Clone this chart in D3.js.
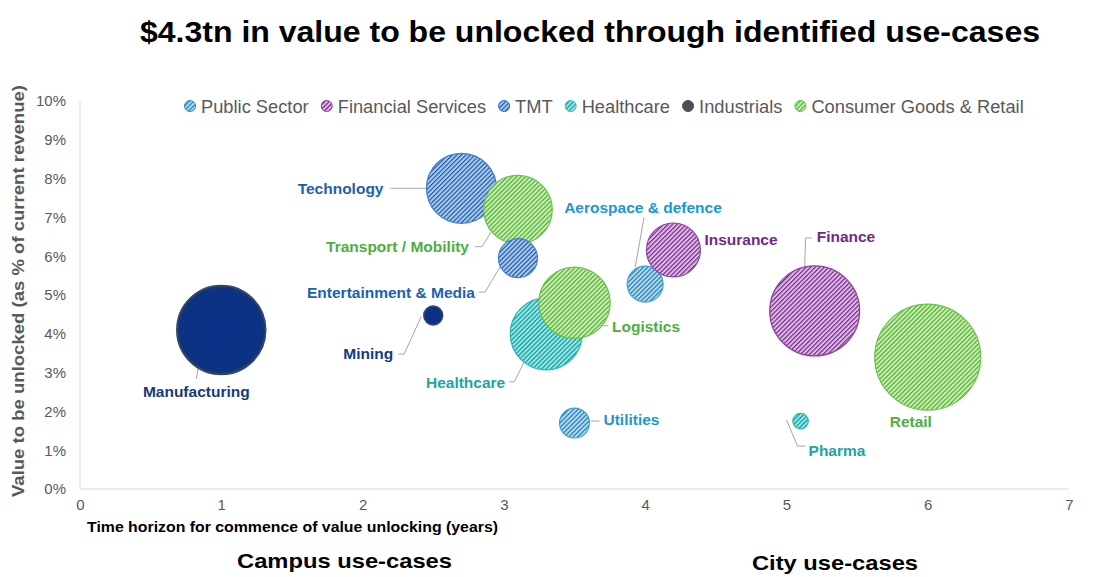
<!DOCTYPE html>
<html>
<head>
<meta charset="utf-8">
<script src="https://cdn.jsdelivr.net/npm/d3@7"></script>
<style>
  html, body { margin: 0; padding: 0; background: #fff; }
  svg { display: block; font-family: "Liberation Sans", Arial, sans-serif; }
</style>
</head>
<body>
<svg id="chart" width="1094" height="577"></svg>
<script>
// ---------- DATA ----------
const categories = ["Public Sector", "Financial Services", "TMT", "Healthcare", "Industrials", "Consumer Goods & Retail"];
const useCases   = ["Manufacturing", "Technology", "Transport / Mobility", "Entertainment  & Media", "Mining", "Healthcare", "Logistics", "Aerospace & defence", "Insurance", "Finance", "Retail", "Utilities", "Pharma"];
const useCaseCategory = ["Industrials", "TMT", "Consumer Goods & Retail", "TMT", "Industrials", "Healthcare", "Consumer Goods & Retail", "Public Sector", "Financial Services", "Financial Services", "Consumer Goods & Retail", "Public Sector", "Healthcare"];
const timeHorizon = [1.0, 2.7, 3.1, 3.1, 2.5, 3.3, 3.5, 4.0, 4.2, 5.2, 6.0, 3.5, 5.1];        // years
const valuePct    = [4.1, 7.75, 7.2, 5.95, 4.47, 4.0, 4.8, 5.28, 6.16, 4.59, 3.4, 1.7, 1.75]; // % of current revenue
const valueBn     = [620, 384, 368, 119, 28, 406, 399, 101, 228, 634, 880, 70, 19];          // bubble size (US$bn)
const xTicks = [0, 1, 2, 3, 4, 5, 6, 7];
const yTicks = [0, 1, 2, 3, 4, 5, 6, 7, 8, 9, 10];

// ---------- STYLE ----------
const catStyle = {
  "Public Sector":           {base: "#a9def8", stripe: "#1c5f8c", stroke: "#3aa3dc", text: "#1e96d2", legend: "#1e96d2"},
  "Financial Services":      {base: "#e9b2f2", stripe: "#4b1d5a", stroke: "#8a469c", text: "#732a84", legend: "#8e3e9e"},
  "TMT":                     {base: "#a3ccf7", stripe: "#173f80", stroke: "#3e80cf", text: "#1b62ab", legend: "#2a6fc4"},
  "Healthcare":              {base: "#8aeeee", stripe: "#137a7a", stroke: "#2fb5b5", text: "#22a3a3", legend: "#35b8b8"},
  "Industrials":             {solid: "#0b3184", stroke: "#34476c", text: "#163a7c", legend: "#4a5257"},
  "Consumer Goods & Retail": {base: "#c6f2a8", stripe: "#3f9a32", stroke: "#6cc24e", text: "#4fae3d", legend: "#5fbf48"}
};
const catKey = c => c.replace(/[^A-Za-z]/g, "");

// label layout: offsets relative to bubble center
const labelLayout = {
  "Manufacturing":          {dx: -25, dy: 62,  anchor: "middle", leader: [[-22, 32], [-25, 49]]},
  "Technology":             {dx: -78, dy: 0,   anchor: "end",    leader: [[-71, 0], [-34, 0]]},
  "Transport / Mobility":   {dx: -49, dy: 37,  anchor: "end",    leader: [[-43, 37], [-36, 37], [-26, 21]]},
  "Entertainment  & Media": {dx: -43, dy: 34,  anchor: "end",    leader: [[-39, 34], [-33, 34], [-18, 9]]},
  "Mining":                 {dx: -40, dy: 38.5,anchor: "end",    leader: [[-35, 38.5], [-29, 38.5], [-12, 1]]},
  "Healthcare":             {dx: -41, dy: 49,  anchor: "end",    leader: [[-37, 48], [-32, 48], [-22, 28]]},
  "Logistics":              {dx: 37.5,dy: 24,  anchor: "start",  leader: [[27, 23], [34, 23]]},
  "Aerospace & defence":    {dx: -81, dy: -77, anchor: "start",  leader: [[-1, -67], [-10, -17]]},
  "Insurance":              {dx: 31,  dy: -10, anchor: "start",  leader: null},
  "Finance":                {dx: 2,   dy: -74, anchor: "start",  leader: [[-3, -73], [-9, -73], [-10, -44]]},
  "Retail":                 {dx: -38, dy: 64,  anchor: "start",  leader: null},
  "Utilities":              {dx: 29,  dy: -3,  anchor: "start",  leader: [[16, -2], [25, -2]]},
  "Pharma":                 {dx: 8,   dy: 29,  anchor: "start",  leader: [[-14, -1], [-3, 25], [5, 25]]}
};

const data = useCases.map((n, i) => ({name: n, cat: useCaseCategory[i], x: timeHorizon[i], y: valuePct[i], v: valueBn[i]}));

// ---------- CHART ----------
const svg = d3.select("#chart");
const x = d3.scaleLinear().domain([0, 7]).range([80, 1069]);
const y = d3.scaleLinear().domain([0, 10]).range([489, 101]);
const r = d3.scaleSqrt().domain([0, d3.max(valueBn)]).range([0, 53]);

// patterns
const defs = svg.append("defs");
categories.forEach(c => {
  const s = catStyle[c];
  if (s.solid) return;
  const p = defs.append("pattern").attr("id", "hatch-" + catKey(c))
    .attr("patternUnits", "userSpaceOnUse").attr("width", 3.2).attr("height", 3.2)
    .attr("patternTransform", "rotate(45)");
  p.append("rect").attr("width", 3.2).attr("height", 3.2).attr("fill", s.base);
  p.append("line").attr("x1", 0.6).attr("y1", 0).attr("x2", 0.6).attr("y2", 3.2)
    .attr("stroke", s.stripe).attr("stroke-width", 1.0);
});
const rg = defs.append("radialGradient").attr("id", "solidNavy");
rg.append("stop").attr("offset", "0%").attr("stop-color", "#0a3187");
rg.append("stop").attr("offset", "93%").attr("stop-color", "#0c3282");
rg.append("stop").attr("offset", "100%").attr("stop-color", "#2b3d66");
const fillFor = c => catStyle[c].solid ? "url(#solidNavy)" : "url(#hatch-" + catKey(c) + ")";

// title
svg.append("text").attr("x", 590).attr("y", 42).attr("text-anchor", "middle")
  .attr("font-size", 30).attr("font-weight", "bold").attr("fill", "#000")
  .attr("textLength", 900).attr("lengthAdjust", "spacingAndGlyphs")
  .text("$4.3tn in value to be unlocked through identified use-cases");

// axes lines
svg.append("line").attr("x1", x(0)).attr("x2", x(0)).attr("y1", y(10)).attr("y2", y(0))
  .attr("stroke", "#d9d9d9").attr("stroke-width", 1);
svg.append("line").attr("x1", x(0)).attr("x2", x(7)).attr("y1", y(0)).attr("y2", y(0))
  .attr("stroke", "#d9d9d9").attr("stroke-width", 1);

// axis tick labels using d3 axes
const yAxis = svg.append("g").attr("transform", `translate(${x(0)},0)`)
  .call(d3.axisLeft(y).tickValues(yTicks).tickSize(0).tickPadding(14).tickFormat(d => d + "%"));
const xAxis = svg.append("g").attr("transform", `translate(0,${y(0)})`)
  .call(d3.axisBottom(x).tickValues(xTicks).tickSize(0).tickPadding(10).tickFormat(d3.format("d")));
[yAxis, xAxis].forEach(a => {
  a.select(".domain").remove();
  a.selectAll("text").attr("font-size", 15).attr("fill", "#595959")
    .attr("font-family", "'Liberation Sans', Arial, sans-serif");
});

// axis titles
svg.append("text").attr("transform", "translate(24,291) rotate(-90)").attr("text-anchor", "middle")
  .attr("font-size", 17).attr("font-weight", "bold").attr("fill", "#595959")
  .attr("textLength", 412).attr("lengthAdjust", "spacingAndGlyphs")
  .text("Value to be unlocked (as % of current revenue)");
svg.append("text").attr("x", 87).attr("y", 532)
  .attr("font-size", 14).attr("font-weight", "bold").attr("fill", "#000")
  .attr("textLength", 411).attr("lengthAdjust", "spacingAndGlyphs")
  .text("Time horizon for commence of value unlocking (years)");
svg.append("text").attr("x", 237).attr("y", 568)
  .attr("font-size", 21).attr("font-weight", "bold").attr("fill", "#000")
  .attr("textLength", 215).attr("lengthAdjust", "spacingAndGlyphs")
  .text("Campus use-cases");
svg.append("text").attr("x", 752).attr("y", 570)
  .attr("font-size", 21).attr("font-weight", "bold").attr("fill", "#000")
  .attr("textLength", 166).attr("lengthAdjust", "spacingAndGlyphs")
  .text("City use-cases");

// legend
const legend = svg.append("g");
let lx = 190;
categories.forEach(c => {
  const s = catStyle[c];
  legend.append("circle").attr("cx", lx).attr("cy", 106).attr("r", 5.5)
    .attr("fill", s.solid ? s.legend : fillFor(c)).attr("stroke", s.legend).attr("stroke-width", 1);
  const t = legend.append("text").attr("x", lx + 11).attr("y", 112.5)
    .attr("font-size", 18.3).attr("fill", "#595959").text(c);
  lx = lx + 11 + t.node().getComputedTextLength() + 18;
});

// leader lines (below bubbles)
const line = d3.line();
svg.append("g").selectAll("path")
  .data(data.filter(d => labelLayout[d.name].leader))
  .join("path")
  .attr("d", d => line(labelLayout[d.name].leader.map(p => [x(d.x) + p[0], y(d.y) + p[1]])))
  .attr("fill", "none").attr("stroke", "#a6a6a6").attr("stroke-width", 1);

// bubbles
svg.append("g").selectAll("circle")
  .data(data)
  .join("circle")
  .attr("cx", d => x(d.x)).attr("cy", d => y(d.y)).attr("r", d => r(d.v))
  .attr("fill", d => fillFor(d.cat))
  .attr("stroke", d => catStyle[d.cat].stroke)
  .attr("stroke-width", d => d.cat === "Industrials" ? 1.5 : 1.2);

// labels
svg.append("g").selectAll("text")
  .data(data)
  .join("text")
  .attr("x", d => x(d.x) + labelLayout[d.name].dx)
  .attr("y", d => y(d.y) + labelLayout[d.name].dy)
  .attr("dy", "0.35em")
  .attr("text-anchor", d => labelLayout[d.name].anchor)
  .attr("font-size", 15.5).attr("font-weight", "bold")
  .attr("fill", d => catStyle[d.cat].text)
  .text(d => d.name);
</script>
</body>
</html>
